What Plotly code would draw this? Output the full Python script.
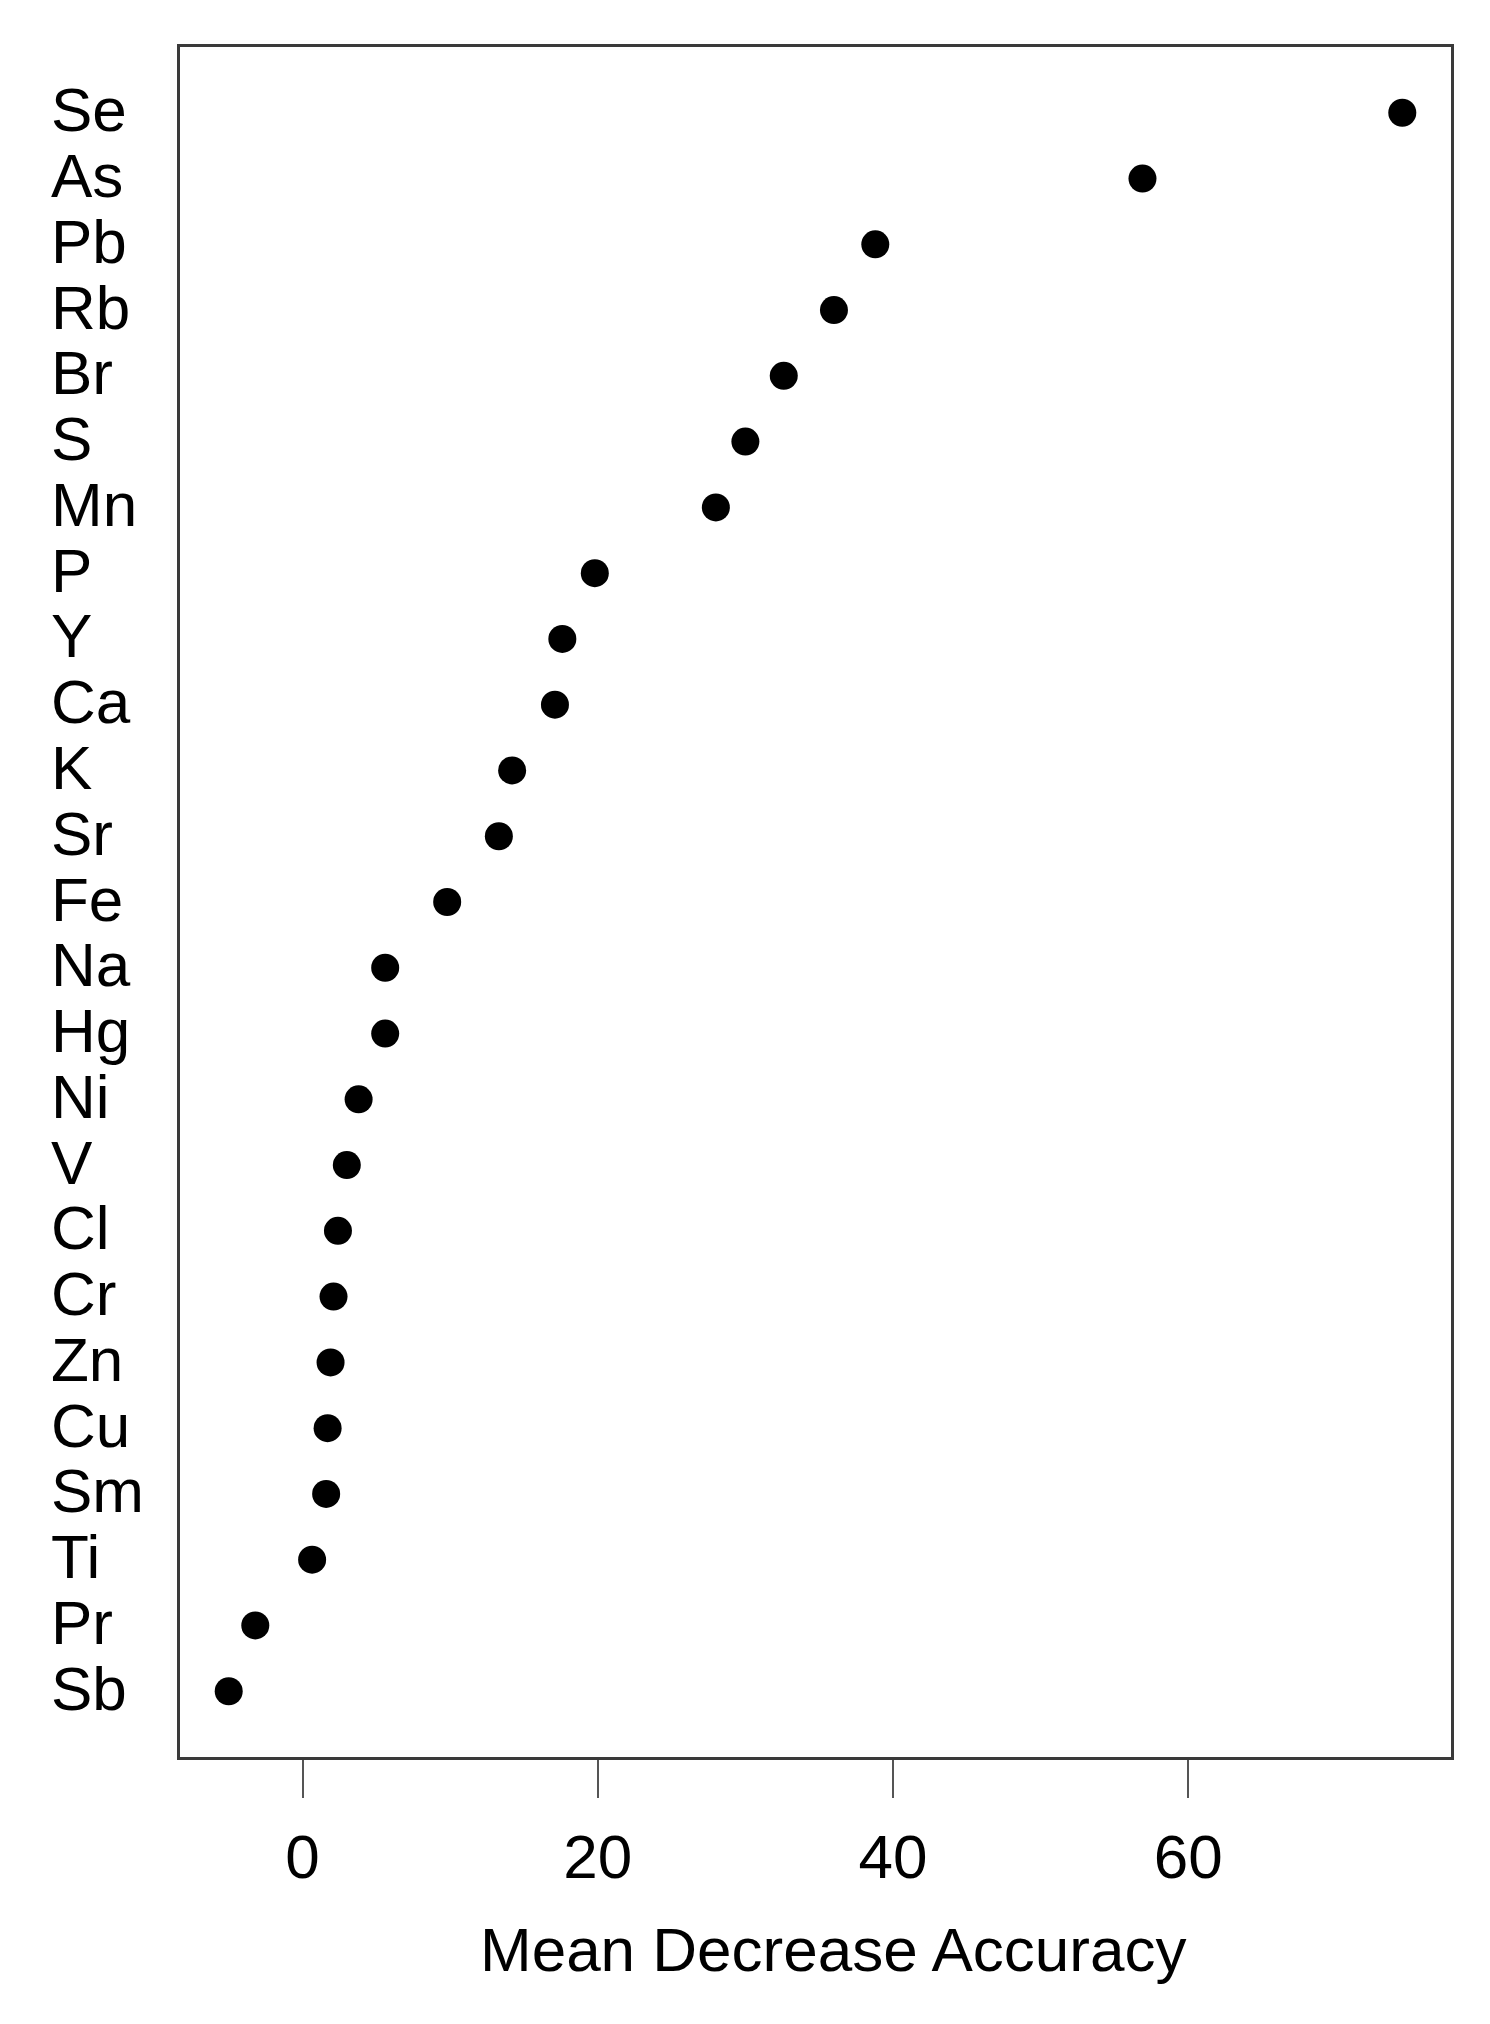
import plotly.graph_objects as go

elements = ["Se", "As", "Pb", "Rb", "Br", "S", "Mn", "P", "Y", "Ca", "K", "Sr", "Fe",
            "Na", "Hg", "Ni", "V", "Cl", "Cr", "Zn", "Cu", "Sm", "Ti", "Pr", "Sb"]
mda = [74.5, 56.9, 38.8, 36.0, 32.6, 30.0, 28.0, 19.8, 17.6, 17.1, 14.2, 13.3, 9.8,
       5.6, 5.6, 3.8, 3.0, 2.4, 2.1, 1.9, 1.7, 1.6, 0.65, -3.2, -5.0]
x_ticks = [0, 20, 40, 60]
x_title = "Mean Decrease Accuracy"

FONT = "Liberation Sans, Arial, Helvetica, sans-serif"

# plot from bottom (Sb) to top (Se)
cats = list(reversed(elements))
vals = list(reversed(mda))

fig = go.Figure()
fig.add_trace(go.Scatter(
    x=vals, y=cats, mode="markers",
    marker=dict(size=28, color="black", line=dict(width=0)),
    showlegend=False, hoverinfo="x+y",
))

for c in cats:
    fig.add_annotation(
        x=-0.103, xref="paper", y=c, yref="y",
        text=c, showarrow=False, xanchor="left", yanchor="middle",
        font=dict(family=FONT, size=62, color="black"), yshift=3,
    )

# x-axis title
fig.add_annotation(
    x=0.5, xref="paper", y=-0.1123, yref="paper",
    text=x_title, showarrow=False, xanchor="center", yanchor="middle",
    xshift=17, font=dict(family=FONT, size=62, color="black"),
)

fig.update_layout(
    width=1482, height=2016,
    margin=dict(l=172, r=39, t=39, b=267),
    paper_bgcolor="white", plot_bgcolor="white",
    font=dict(family=FONT, size=62, color="black"),
    xaxis=dict(
        range=[-8.3, 77.8], tickvals=x_ticks, ticktext=[str(t) for t in x_ticks],
        showgrid=False, zeroline=False,
        showline=True, mirror=True, linecolor="#3a3a3a", linewidth=3,
        ticks="outside", ticklen=38, tickwidth=2, tickcolor="#555",
        ticklabelstandoff=6,
        tickfont=dict(family=FONT, size=62, color="black"),
    ),
    yaxis=dict(
        type="category", categoryorder="array", categoryarray=cats,
        range=[-1, 25], showticklabels=False, ticks="",
        showgrid=False, zeroline=False,
        showline=True, mirror=True, linecolor="#3a3a3a", linewidth=3,
    ),
)

fig.write_html("out.html")
